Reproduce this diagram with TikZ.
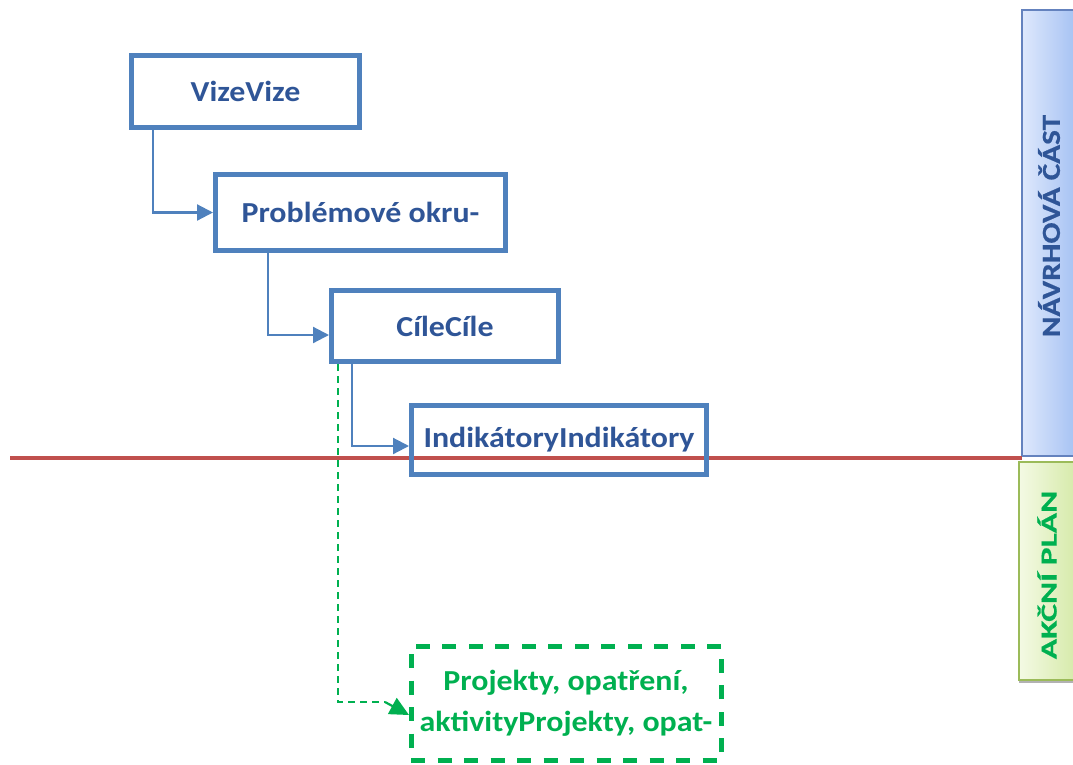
\documentclass[tikz,border=0pt]{standalone}
\usepackage{fontspec}
\setmainfont{Carlito}
\newfontfamily\boxfont[FakeStretch=1.1]{Carlito}
\newfontfamily\bluebarfont[FakeStretch=1.2,FakeBold=0.6]{Carlito}
\newfontfamily\greenbarfont[FakeStretch=1.46,FakeBold=0.6]{Carlito}
\usetikzlibrary{arrows.meta,calc}
\definecolor{boxblue}{RGB}{79,129,189}
\definecolor{txtblue}{RGB}{47,85,151}
\definecolor{mygreen}{RGB}{0,176,80}
\definecolor{myred}{RGB}{192,80,77}
\definecolor{barblueL}{RGB}{222,232,252}
\definecolor{barblueR}{RGB}{166,194,243}
\definecolor{barblueB}{RGB}{100,130,190}
\definecolor{bargreenL}{RGB}{244,250,228}
\definecolor{bargreenR}{RGB}{214,234,170}
\definecolor{bargreenB}{RGB}{155,187,89}
\tikzset{
  stepbox/.style={draw=boxblue, line width=5pt, fill=white, text=txtblue,
    font=\boxfont\bfseries\fontsize{29}{33}\selectfont, align=center, inner sep=0pt},
  greenbox/.style={draw=mygreen, line width=5pt, dash pattern=on 14pt off 12.5pt,
    text=mygreen, font=\boxfont\bfseries\fontsize{29}{41}\selectfont, align=center, inner sep=0pt},
  conn/.style={draw=boxblue, line width=2.2pt, -{Triangle[length=16pt,width=16pt]}},
  gdash/.style={draw=mygreen, line width=2.2pt, dash pattern=on 7pt off 5pt},
  garrow/.style={draw=mygreen, line width=2.2pt, -{Triangle[length=19pt,width=18pt]}},
}
\begin{document}
\begin{tikzpicture}[x=1pt,y=-1pt]
\useasboundingbox (0,0) rectangle (1073,764);
% right bars
\fill[gray!60] (1019,464) rectangle (1073,683);
\shade[left color=barblueL,right color=barblueR,draw=barblueB,line width=1.5pt] (1022,10) rectangle (1076,456);
\node[rotate=90, text=txtblue, font=\bluebarfont\bfseries\fontsize{26}{30}\selectfont] (nc) at (1049,226) {NÁVRHOVÁ ČÁST};
\shade[left color=bargreenL,right color=bargreenR,draw=bargreenB,line width=1.5pt] (1019,462) rectangle (1076,680);
\node[rotate=90, text=mygreen, font=\greenbarfont\bfseries\fontsize{23}{27}\selectfont] (ap) at (1047,575) {AKČNÍ PLÁN};
% boxes
\node[stepbox, minimum width=228pt, minimum height=72pt] (vize) at (245.5,91.5) {VizeVize};
\node[stepbox, minimum width=290pt, minimum height=76pt] (prob) at (360.5,212.5) {Problémové okru-};
\node[stepbox, minimum width=227pt, minimum height=71pt] (cile) at (445,326) {CíleCíle};
% green dashed connector
\coordinate (gk) at (385,702);
\coordinate (gtip) at (409,715);
\draw[gdash] (cile.south -| 338,0) |- (gk);
% red line
\draw[myred, line width=3.5pt] (10,458) -- (1022,458);
\node[stepbox, fill=none, minimum width=295pt, minimum height=69pt] (ind) at (559,440) {IndikátoryIndikátory};
\node[greenbox, minimum width=310pt, minimum height=114pt] (proj) at (566,703) {Projekty, opatření,\\aktivityProjekty, opat-};
\draw[garrow] (gk) -- (gtip);
% connectors
\draw[conn] (vize.south -| 153,0) |- (prob.west);
\draw[conn] (prob.south -| 268,0) |- ($(cile.west)+(0,9)$);
\draw[conn] (cile.south -| 352,0) |- ($(ind.west)+(0,6)$);
\end{tikzpicture}
\end{document}
